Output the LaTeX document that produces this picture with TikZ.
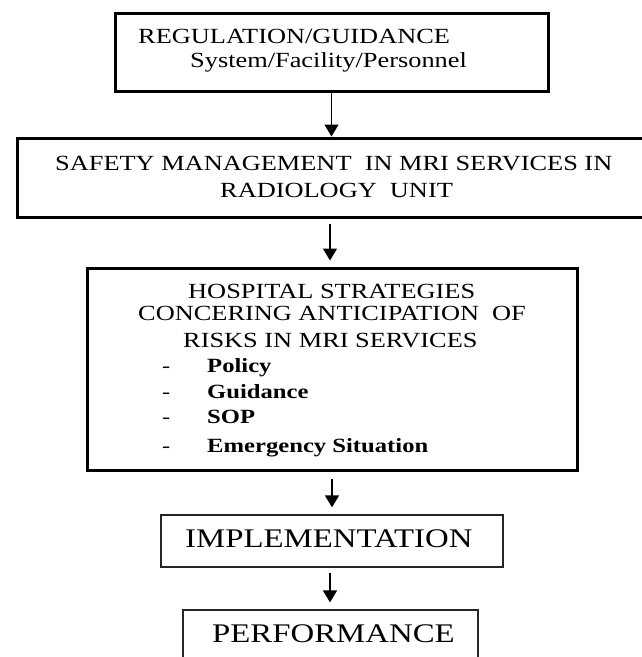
\documentclass[tikz,border=0pt]{standalone}
\usepackage{fontspec}
\setmainfont{Liberation Serif}[FakeStretch=1.22]
\usetikzlibrary{arrows.meta}
\tikzset{
  thickbox/.style={draw=black, line width=3pt, inner sep=0pt},
  thinbox/.style={draw=black!85, line width=1.3pt, inner sep=0pt},
  txt/.style={anchor=base west, inner sep=0pt, font=\fontsize{21.6}{24}\selectfont},
  bigtxt/.style={anchor=base west, inner sep=0pt, font=\fontsize{26.9}{30}\selectfont},
  itemtxt/.style={anchor=base west, inner sep=0pt, font=\fontsize{20.2}{22}\selectfont\bfseries},
  dashtxt/.style={anchor=base west, inner sep=0pt, font=\fontsize{20}{22}\selectfont},
  arr/.style={line width=1.5pt, -{Triangle[length=12pt,width=14pt]}}
}
\begin{document}
\begin{tikzpicture}[x=1pt,y=-1pt]
\useasboundingbox (0,0) rectangle (642,657);
% boxes
\node[thickbox, minimum width=433pt, minimum height=78pt] (b1) at (331.5,52) {};
\node[thickbox, minimum width=630pt, minimum height=79pt] (b2) at (332,177.5) {};
\node[thickbox, minimum width=490pt, minimum height=202pt] (b3) at (332,369) {};
\node[thinbox, minimum width=342pt, minimum height=52pt] (b4) at (332,541) {};
\node[thinbox, minimum width=295pt, minimum height=70pt] (b5) at (330.5,645) {};
% texts
\node[txt] (t1a) at (138,43) {REGULATION/GUIDANCE};
\node[txt] (t1b) at (190,67) {System/Facility/Personnel};
\node[txt] (t2a) at (55,170) {SAFETY MANAGEMENT\ \ IN MRI SERVICES IN};
\node[txt] (t2b) at (220,197) {RADIOLOGY\ \ UNIT};
\node[txt] (t3a) at (188,298) {HOSPITAL STRATEGIES};
\node[txt] (t3b) at (138,320) {CONCERING ANTICIPATION\ \ OF};
\node[txt] (t3c) at (183,347) {RISKS IN MRI SERVICES};
\node[dashtxt] (d1) at (162,372) {-};
\node[dashtxt] (d2) at (162,398) {-};
\node[dashtxt] (d3) at (162,423) {-};
\node[dashtxt] (d4) at (162,452) {-};
\node[itemtxt] (i1) at (207,372) {Policy};
\node[itemtxt] (i2) at (207,398) {Guidance};
\node[itemtxt] (i3) at (207,423) {SOP};
\node[itemtxt] (i4) at (207,452) {Emergency Situation};
\node[bigtxt] (t4) at (185,547) {IMPLEMENTATION};
\node[bigtxt] (t5) at (212,642) {PERFORMANCE};
% arrows
\draw[arr] (b1.south) -- (b1.south |- b2.north);
\draw[arr, shorten <=5pt, shorten >=6pt] ([xshift=-2pt]b2.south) -- ([xshift=-2pt]b2.south |- b3.north);
\draw[arr, shorten <=7pt, shorten >=7pt] (b3.south) -- (b3.south |- b4.north);
\draw[arr, shorten <=5pt, shorten >=7pt] ([xshift=-2pt]b4.south) -- ([xshift=-2pt]b4.south |- b5.north);
\end{tikzpicture}
\end{document}
